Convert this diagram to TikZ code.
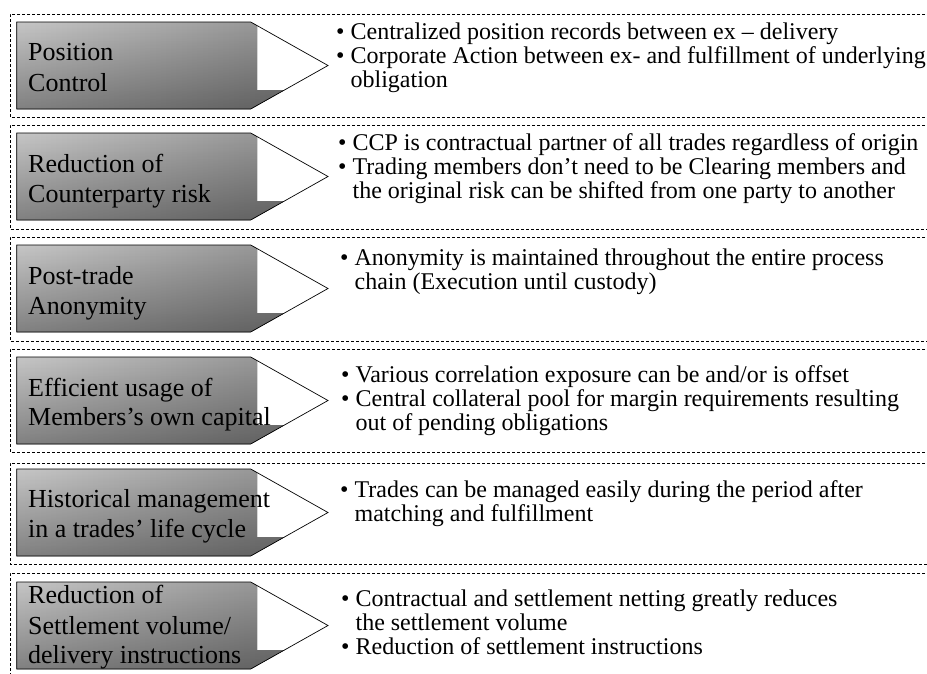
\documentclass[tikz,border=0pt]{standalone}
\usepackage{fontspec}
\setmainfont{Liberation Serif}
\usetikzlibrary{fadings}
\tikzfading[name=downdark, top color=transparent!100, bottom color=transparent!0]

\definecolor{shadelight}{RGB}{198,198,198}
\definecolor{shadedark}{RGB}{138,138,138}

\tikzset{
  bandline/.style={draw=black, line width=0.6pt, dash pattern=on 3pt off 2pt},
  arrowline/.style={draw=black, line width=0.7pt, line join=miter},
  lbl/.style={anchor=base west, inner sep=0pt, font=\fontsize{26}{30}\selectfont},
  itm/.style={anchor=base west, inner sep=0pt, font=\fontsize{24}{27}\selectfont},
}

% dashed frame of one band: top and bottom edge
\newcommand\bandframe[2]{%
  \draw[bandline] (945,#1) -- (10,#1) -- (10,#2) -- (945,#2);
}

% shaded chevron whose top edge lies at #1
\newcommand\chevron[1]{%
  \begin{scope}
    \clip (16.7,#1) -- (250.7,#1) -- (328,{#1+43.5}) -- (250.7,{#1+87})
          -- (16.7,{#1+87}) -- cycle;
    \fill[left color=shadelight, right color=shadedark]
      (16.7,#1) rectangle (257,{#1+87}) (16.7,{#1+68}) rectangle (330,{#1+87});
    \fill[black, opacity=0.35, path fading=downdark]
      (16.7,#1) rectangle (257,{#1+87}) (16.7,{#1+68}) rectangle (330,{#1+87});
  \end{scope}
  \draw[arrowline] (16.7,#1) -- (250.7,#1) -- (328,{#1+43.5}) -- (250.7,{#1+87})
    -- (16.7,{#1+87}) -- cycle;
}

\newcommand\bl{\textbullet\ }
\newcommand\hang{\phantom{\textbullet\ }}

\begin{document}
\begin{tikzpicture}[x=1pt, y=-1pt]
  \useasboundingbox (0,0) rectangle (927,673);

  % band frames
  \bandframe{14}{117}
  \bandframe{125}{229}
  \bandframe{237}{341}
  \bandframe{349}{452}
  \bandframe{463}{564}
  \bandframe{573}{690}

  % chevrons
  \chevron{22}
  \chevron{133}
  \chevron{245}
  \chevron{357}
  \chevron{469}
  \chevron{582}

  % band 1
  \node[lbl] (p1a) at (28,60)  {Position};
  \node[lbl] (p1b) at (28,91)  {Control};
  \node[itm] (r1a) at (336,39) {\bl Centralized position records between ex – delivery};
  \node[itm] (r1b) at (336,63) {\bl Corporate Action between ex- and fulfillment of underlying};
  \node[itm] (r1c) at (336,87) {\hang obligation};

  % band 2
  \node[lbl] (p2a) at (28,172) {Reduction of};
  \node[lbl] (p2b) at (28,202) {Counterparty risk};
  \node[itm] (r2a) at (338,150) {\bl CCP is contractual partner of all trades regardless of origin};
  \node[itm] (r2b) at (338,174) {\bl Trading members don’t need to be Clearing members and};
  \node[itm] (r2c) at (338,198) {\hang the original risk can be shifted from one party to another};

  % band 3
  \node[lbl] (p3a) at (28,284) {Post-trade};
  \node[lbl] (p3b) at (28,314) {Anonymity};
  \node[itm] (r3a) at (340,265) {\bl Anonymity is maintained throughout the entire process};
  \node[itm] (r3b) at (340,289) {\hang chain (Execution until custody)};

  % band 4
  \node[lbl] (p4a) at (28,396) {Efficient usage of};
  \node[lbl] (p4b) at (28,425) {Members’s own capital};
  \node[itm] (r4a) at (341,382) {\bl Various correlation exposure can be and/or is offset};
  \node[itm] (r4b) at (341,406) {\bl Central collateral pool for margin requirements resulting};
  \node[itm] (r4c) at (341,430) {\hang out of pending obligations};

  % band 5
  \node[lbl] (p5a) at (28,507) {Historical management};
  \node[lbl] (p5b) at (28,537) {in a trades’ life cycle};
  \node[itm] (r5a) at (340,497) {\bl Trades can be managed easily during the period after};
  \node[itm] (r5b) at (340,521) {\hang matching and fulfillment};

  % band 6
  \node[lbl] (p6a) at (28,603) {Reduction of};
  \node[lbl] (p6b) at (28,634) {Settlement volume/};
  \node[lbl] (p6c) at (28,663) {delivery instructions};
  \node[itm] (r6a) at (341,606) {\bl Contractual and settlement netting greatly reduces};
  \node[itm] (r6b) at (341,630) {\hang the settlement volume};
  \node[itm] (r6c) at (341,654) {\bl Reduction of settlement instructions};
\end{tikzpicture}
\end{document}
